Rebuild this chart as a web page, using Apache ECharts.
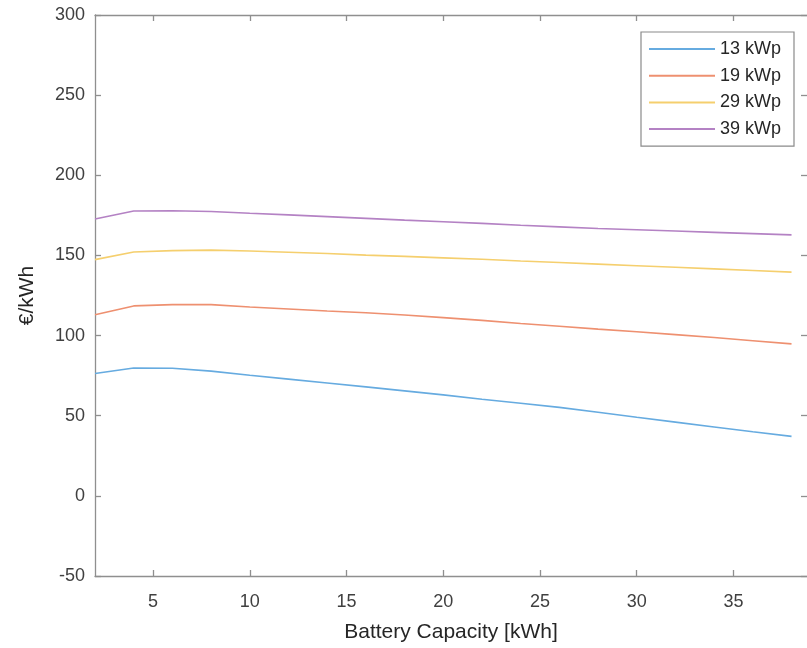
<!DOCTYPE html>
<html>
<head>
<meta charset="utf-8">
<script src="https://cdn.jsdelivr.net/npm/echarts@6/dist/echarts.min.js"></script>
<style>html,body{margin:0;padding:0;background:#fff;}#c{width:807px;height:648px;}</style>
</head>
<body>
<div id="c"></div>
<script>
const capacity = [2,4,6,8,10,12,14,16,18,20,22,24,26,28,30,32,34,36,38];
const kwp13 = [76.3,79.8,79.6,77.8,75.2,72.8,70.4,68.0,65.5,63.0,60.3,57.8,55.2,52.2,49.0,46.0,43.0,40.0,37.1];
const kwp19 = [113.0,118.5,119.3,119.3,117.8,116.6,115.3,114.2,112.8,111.2,109.5,107.5,105.8,104.0,102.4,100.6,98.8,96.8,94.8];
const kwp29 = [147.4,152.1,153.0,153.3,152.8,152.0,151.2,150.2,149.4,148.5,147.6,146.5,145.6,144.6,143.6,142.6,141.6,140.6,139.6];
const kwp39 = [172.7,177.7,177.9,177.4,176.3,175.3,174.2,173.1,172.0,171.0,170.0,168.8,167.8,166.8,166.0,165.2,164.4,163.6,162.8];
const seriesNames = ['13 kWp','19 kWp','29 kWp','39 kWp'];
const xTicks = [5,10,15,20,25,30,35];

const colors = ['#66abe0','#ee9070','#f5cf6e','#b482c4'];
const font = 'Liberation Sans, Arial, Helvetica, sans-serif';
const axisColor = '#8f8f8f';
const toPairs = arr => capacity.map((x,i)=>[x,arr[i]]);
const allData = [kwp13,kwp19,kwp29,kwp39];

const chart = echarts.init(document.getElementById('c'), null, {renderer:'canvas'});
chart.setOption({
  animation:false,
  backgroundColor:'#ffffff',
  grid:{left:95, top:15, width:712, height:565, containLabel:false},
  legend:{
    orient:'vertical', left:641, top:32,
    data:seriesNames,
    icon:'rect', itemWidth:66, itemHeight:2, itemGap:8.7,
    padding:[8,8,8,8],
    borderColor:'#8a8a8a', borderWidth:1.2, backgroundColor:'#ffffff',
    textStyle:{fontFamily:font, fontSize:18, color:'#262626', lineHeight:18, width:66}
  },
  xAxis:[{
    type:'value', min:2, max:38.8, position:'bottom',
    name:'Battery Capacity [kWh]', nameLocation:'middle', nameGap:46,
    nameTextStyle:{fontFamily:font, fontSize:21, color:'#262626'},
    axisLine:{show:true, onZero:false, lineStyle:{color:axisColor, width:1.3}},
    axisTick:{show:true, inside:true, length:6, customValues:xTicks, lineStyle:{color:axisColor, width:1.3}},
    axisLabel:{show:true, customValues:xTicks, margin:17, fontFamily:font, fontSize:18, color:'#404040'},
    splitLine:{show:false}
  },{
    type:'value', min:2, max:38.8, position:'top',
    axisLine:{show:true, onZero:false, lineStyle:{color:axisColor, width:1.3}},
    axisTick:{show:true, inside:true, length:6, customValues:xTicks, lineStyle:{color:axisColor, width:1.3}},
    axisLabel:{show:false}, splitLine:{show:false}
  }],
  yAxis:[{
    type:'value', min:-50, max:300, interval:50, position:'left',
    name:'€/kWh', nameLocation:'middle', nameGap:57,
    nameTextStyle:{fontFamily:font, fontSize:21, color:'#262626'},
    axisLine:{show:true, onZero:false, lineStyle:{color:axisColor, width:1.3}},
    axisTick:{show:true, inside:true, length:6, lineStyle:{color:axisColor, width:1.3}},
    axisLabel:{margin:10, fontFamily:font, fontSize:18, color:'#404040'},
    splitLine:{show:false}
  },{
    type:'value', min:-50, max:300, interval:50, position:'right',
    axisLine:{show:false, onZero:false},
    axisTick:{show:true, inside:true, length:6, lineStyle:{color:axisColor, width:1.3}},
    axisLabel:{show:false}, splitLine:{show:false}
  }],
  series: seriesNames.map((n,i)=>({
    name:n, type:'line', xAxisIndex:0, yAxisIndex:0,
    data:toPairs(allData[i]), showSymbol:false, symbol:'none',
    lineStyle:{color:colors[i], width:1.6}, itemStyle:{color:colors[i]},
    emphasis:{disabled:true}
  }))
});
</script>
</body>
</html>
